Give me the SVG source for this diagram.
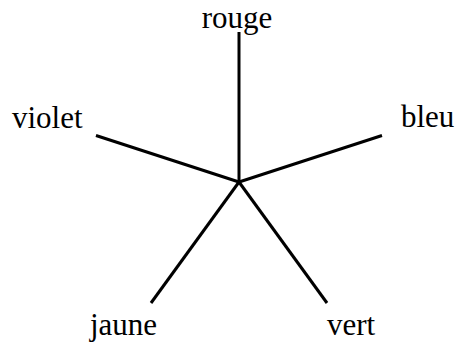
<svg xmlns="http://www.w3.org/2000/svg" width="456" height="343" viewBox="0 0 456 343">
<style>
.lbl{font-family:"Liberation Serif","Times New Roman",serif;font-size:31px;fill:#000}
.ray{stroke:#000;stroke-width:3;stroke-linecap:butt;fill:none}
</style>
<rect width="456" height="343" fill="#fff"/>
<g id="connectors">
<line class="ray" x1="239" y1="182" x2="239" y2="32"/>
<line class="ray" x1="239" y1="182" x2="382" y2="135.5"/>
<line class="ray" x1="239" y1="182" x2="327" y2="303"/>
<line class="ray" x1="239" y1="182" x2="151" y2="303"/>
<line class="ray" x1="239" y1="182" x2="96" y2="135.5"/>
</g>
<g id="rouge"><text class="lbl" x="237" y="28" text-anchor="middle">rouge</text></g>
<g id="bleu"><text class="lbl" x="401" y="127">bleu</text></g>
<g id="vert"><text class="lbl" x="327" y="335">vert</text></g>
<g id="jaune"><text class="lbl" x="90" y="335">jaune</text></g>
<g id="violet"><text class="lbl" x="12" y="128">violet</text></g>
</svg>
